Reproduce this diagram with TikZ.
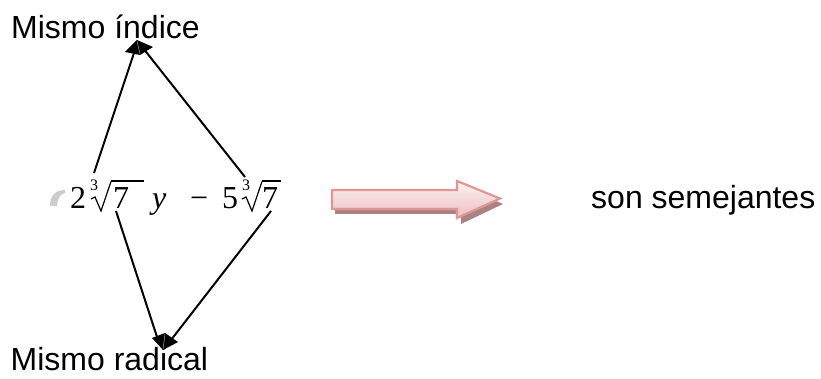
\documentclass[tikz,border=0pt]{standalone}
\usepackage{fontspec}
\setmainfont{Liberation Sans}
\usetikzlibrary{shadings}
\newfontfamily\mathlike{Liberation Serif}
\definecolor{arrowedge}{RGB}{222,150,150}
\definecolor{arrowtop}{RGB}{253,243,243}
\definecolor{arrowbot}{RGB}{236,190,190}
\definecolor{arrowshadow}{RGB}{170,130,130}
\tikzset{
  lbl/.style={inner sep=0pt,anchor=base west,font=\fontsize{32pt}{36pt}\selectfont},
  formula/.style={inner sep=0pt,anchor=base west,font=\mathlike\fontsize{32pt}{36pt}\selectfont},
  rootidx/.style={inner sep=0pt,anchor=base west,font=\mathlike\fontsize{16pt}{18pt}\selectfont},
  con/.style={line width=2pt,black},
  tipfill/.style={fill=black,draw=none},
  tipline/.style={draw=gray!70,line width=0.5pt}
}
\begin{document}
\begin{tikzpicture}[x=1pt,y=-1pt,every node/.append style={text=black}]
\useasboundingbox (0,0) rectangle (821,379);
% labels
\node[lbl] (indice) at (11,38.3) {Mismo índice};
\node[lbl] (radical) at (10.5,370) {Mismo radical};
\node[lbl] (sem) at (591,208.3) {son semejantes};
% bullet glyph
\fill[gray!40] (50,206) .. controls (50,195) and (56,190) .. (65,190) -- (65,193) .. controls (60,194) and (58,198) .. (57,206) -- cycle;
% formula
\node[formula] (two) at (70,209) {2};
\node[rootidx] (i1) at (90,191) {3};
\node[formula] (seven1) at (113,209) {7};
\node[formula,font=\mathlike\itshape\fontsize{32pt}{36pt}\selectfont] (yy) at (152,209) {y};
\node[formula] (minus) at (190,209) {−};
\node[formula] (five) at (222,209) {5};
\node[rootidx] (i2) at (242,191) {3};
\node[formula] (seven2) at (262,209) {7};
\draw[line width=1.2pt] (91,199) -- (95,197) -- (101,211) -- (111,181.5);
\draw[line width=2pt] (110.5,181.5) -- (144,181.5);
\draw[line width=1.2pt] (242,199) -- (246,197) -- (252,211) -- (262,181.5);
\draw[line width=2pt] (261.5,181.5) -- (281,181.5);
% connector anchors
\coordinate (a1) at (94,173);
\coordinate (a2) at (245,177);
\coordinate (b1) at (116,211);
\coordinate (b2) at (271,211);
\coordinate (top1) at (135,50);
\coordinate (top2) at (143,48);
\coordinate (bot1) at (158,340);
\coordinate (bot2) at (171,340);
\draw[con] (a1) -- (top1);
\draw[con] (a2) -- (top2);
\draw[con] (b1) -- (bot1);
\draw[con] (b2) -- (bot2);
% arrow tips
\fill[tipfill] (137,40) -- (153,47) -- (140,55) -- (125,52) -- cycle;
\draw[tipline] (137,41) -- (140,54);
\fill[tipfill] (165,333) -- (178,342) -- (163,350) -- (152,338) -- cycle;
\draw[tipline] (165,334) -- (163,349);
% block arrow
\fill[arrowshadow] (335,195) -- (460,195) -- (460,186) -- (503,204) -- (461,224) -- (461,214) -- (335,214) -- cycle;
\draw[draw=arrowedge,line width=2.2pt,top color=arrowtop,bottom color=arrowbot]
  (332,190) -- (457,190) -- (457,181) -- (500,198.5) -- (457,218) -- (457,209) -- (332,209) -- cycle;
\end{tikzpicture}
\end{document}
